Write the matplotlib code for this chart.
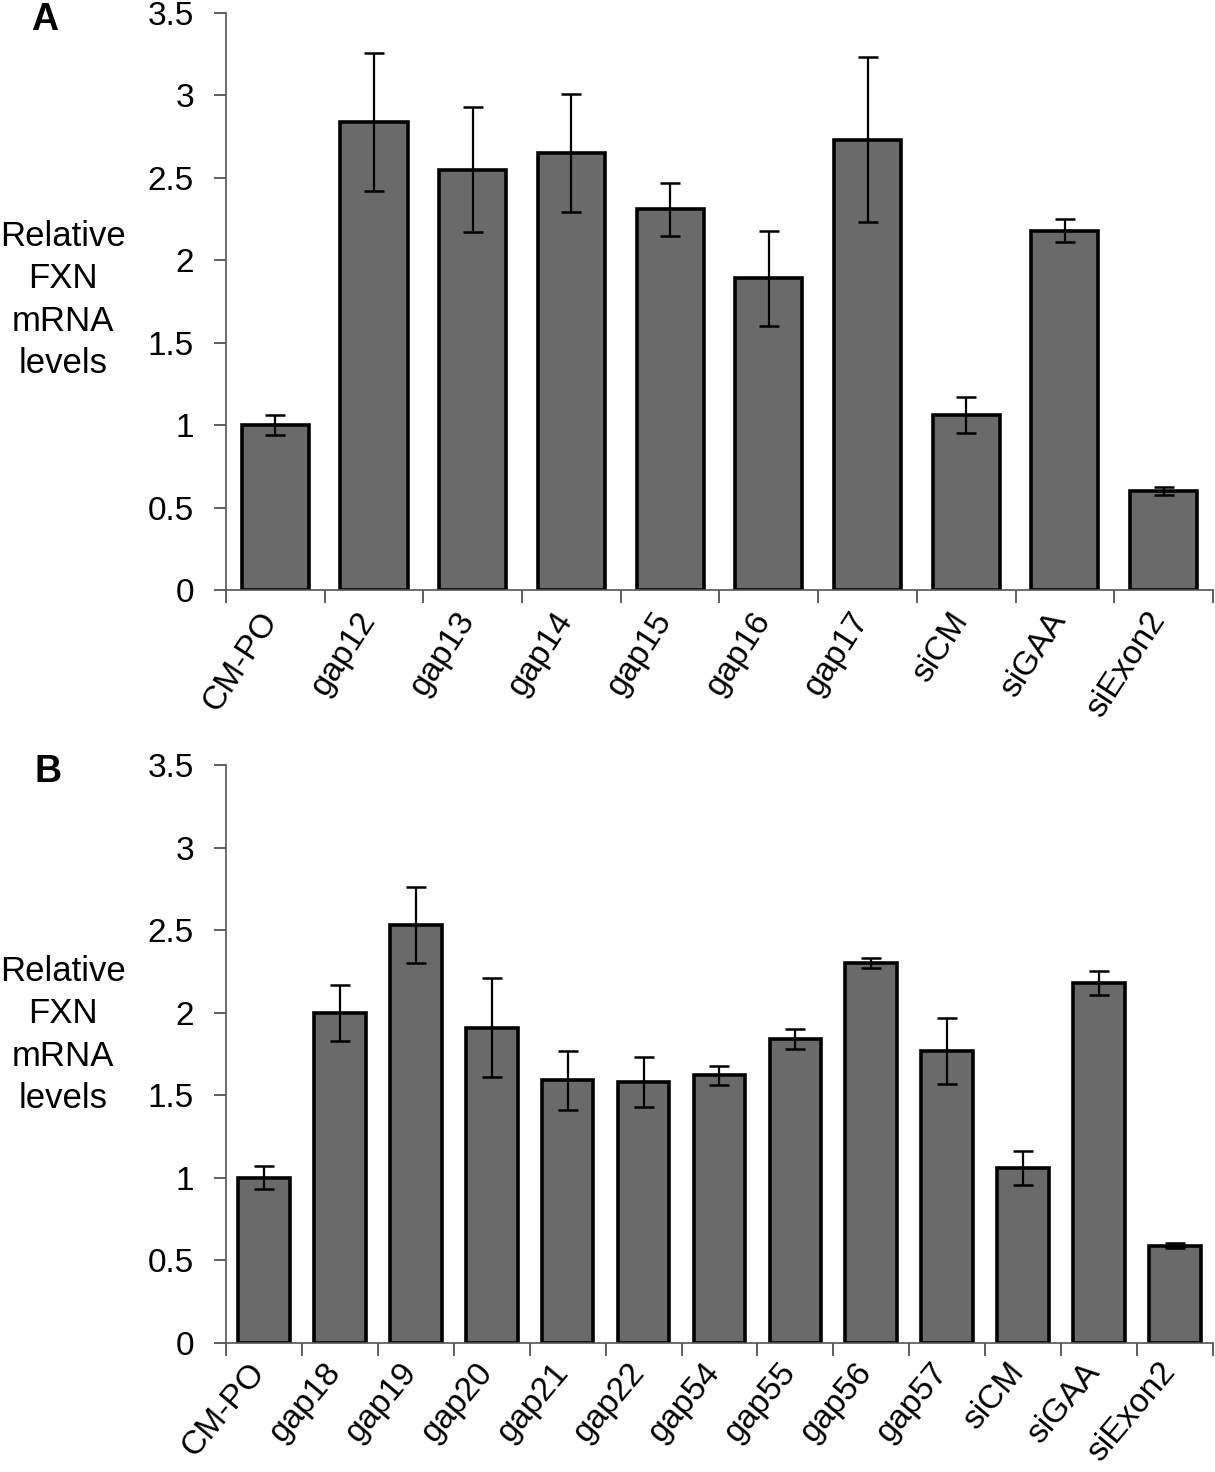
import matplotlib.pyplot as plt
import numpy as np

plt.rcParams['font.family'] = ['Liberation Sans', 'DejaVu Sans']

# Panel A
labels_a = ["CM-PO", "gap12", "gap13", "gap14", "gap15", "gap16", "gap17",
            "siCM", "siGAA", "siExon2"]
values_a = [1.00, 2.84, 2.55, 2.65, 2.31, 1.89, 2.73, 1.06, 2.18, 0.60]
errors_a = [0.06, 0.42, 0.38, 0.36, 0.16, 0.29, 0.50, 0.11, 0.07, 0.025]

# Panel B
labels_b = ["CM-PO", "gap18", "gap19", "gap20", "gap21", "gap22", "gap54",
            "gap55", "gap56", "gap57", "siCM", "siGAA", "siExon2"]
values_b = [1.00, 2.00, 2.53, 1.91, 1.59, 1.58, 1.62, 1.84, 2.30, 1.77,
            1.06, 2.18, 0.59]
errors_b = [0.07, 0.17, 0.23, 0.30, 0.18, 0.15, 0.06, 0.06, 0.03, 0.20,
            0.10, 0.07, 0.016]

yticks = [0, 0.5, 1, 1.5, 2, 2.5, 3, 3.5]
ytick_labels = ["0", "0.5", "1", "1.5", "2", "2.5", "3", "3.5"]

fig = plt.figure(figsize=(12.15, 14.72), dpi=100)
ax_a = fig.add_axes([0.186, 0.5992, 0.8123, 0.392])
ax_b = fig.add_axes([0.186, 0.0876, 0.8123, 0.3927])

FS = 24


def draw_panel(ax, labels, values, errors, rot, off):
    n = len(labels)
    x = np.arange(n)
    ax.bar(x, values, width=0.68, color="#6a6a6a", edgecolor="black",
           linewidth=2.6, zorder=2)
    ax.errorbar(x, values, yerr=errors, fmt="none", ecolor="black",
                elinewidth=1.6, capsize=7, capthick=1.8, zorder=3)
    ax.set_xlim(-0.5, n - 0.5)
    ax.set_ylim(0, 3.5)
    ax.set_yticks(yticks)
    ax.set_yticklabels(ytick_labels, fontsize=FS)
    ax.set_xticks(x)
    ax.set_xticklabels([])
    ax.tick_params(axis="x", which="major", length=0)
    ax.set_xticks(np.arange(n + 1) - 0.5, minor=True)
    ax.tick_params(axis="x", which="minor", length=9, width=1.2,
                   color="#444444", direction="out")
    ax.tick_params(axis="y", length=9, width=1.2, color="#444444",
                   direction="out", pad=14)
    for sp in ["top", "right"]:
        ax.spines[sp].set_visible(False)
    for sp in ["left", "bottom"]:
        ax.spines[sp].set_color("#555555")
        ax.spines[sp].set_linewidth(1.2)
    for i, lab in enumerate(labels):
        ax.annotate(lab, xy=(i, 0), xycoords=("data", "axes fraction"),
                    xytext=off, textcoords="offset points",
                    rotation=rot, ha="right", va="top",
                    rotation_mode="anchor", fontsize=FS)


draw_panel(ax_a, labels_a, values_a, errors_a, 57, (-13, -12))
draw_panel(ax_b, labels_b, values_b, errors_b, 50, (-12, -10))

ylab = "Relative\nFXN\nmRNA\nlevels"
fig.text(63 / 1215, 1 - 300 / 1472, ylab, ha="center", va="center",
         fontsize=FS + 1, linespacing=1.35)
fig.text(63 / 1215, 1 - 1035 / 1472, ylab, ha="center", va="center",
         fontsize=FS + 1, linespacing=1.35)

fig.text(45 / 1215, 1 - 20 / 1472, "A", ha="center", va="center",
         fontsize=FS + 3, fontweight="bold")
fig.text(48 / 1215, 1 - 772 / 1472, "B", ha="center", va="center",
         fontsize=FS + 3, fontweight="bold")

fig.savefig("out.png", dpi=100)
